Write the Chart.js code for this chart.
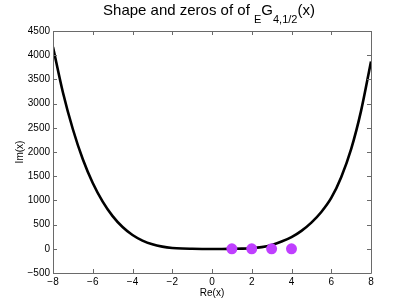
<!DOCTYPE html>
<html>
<head>
<meta charset="utf-8">
<script src="https://cdn.jsdelivr.net/npm/chart.js@4/dist/chart.umd.min.js"></script>
<style>
  html, body { margin: 0; padding: 0; background: #fff; }
  #wrap { position: relative; width: 409px; height: 307px; }
  #title { position: absolute; left: 0; top: 1px; width: 418px; text-align: center;
           font: 15px "Liberation Sans", Arial, sans-serif; color: #000; white-space: nowrap; }
  #title span.s { font-size: 11px; position: relative; top: 8px; }
</style>
</head>
<body>
<div id="wrap">
  <canvas id="c" width="409" height="307"></canvas>
  <div id="title">Shape and zeros of of <span class="s">E</span>G<span class="s">4,1/2</span>(x)</div>
</div>
<script>
// Curve samples
const curveX = [-8, -7.5, -7, -6.5, -6, -5.5, -5, -4.5, -4, -3.5, -3, -2.5, -2, -1.5, -1, -0.5, 0, 0.5, 1, 1.5, 2, 2.5, 3, 3.5, 4, 4.5, 5, 5.5, 6, 6.5, 7, 7.5, 8];
const curveY = [4170, 3230, 2470, 1850, 1360, 975, 675, 450, 285, 170, 92, 45, 18, 5, 0, -3, -4, -3, 0, 3, 12, 35, 80, 150, 240, 370, 540, 760, 1050, 1480, 2060, 2850, 3870];
// Zeros
const zerosX = [1, 2, 3, 4];
const zerosY = [0, 0, 0, 0];
// Axis ticks
const xTicks = [-8, -6, -4, -2, 0, 2, 4, 6, 8];
const yTicks = [-500, 0, 500, 1000, 1500, 2000, 2500, 3000, 3500, 4000, 4500];

const axisColor = '#6a6a6a';
const fontFam = '"Liberation Sans", Arial, sans-serif';

const fmt = v => String(v).replace('-', '\u2212');

const inwardTicks = {
  id: 'inwardTicks',
  afterDraw(chart) {
    const {ctx, chartArea: a, scales: {x, y}} = chart;
    ctx.save();
    ctx.strokeStyle = axisColor;
    ctx.lineWidth = 1;
    ctx.beginPath();
    ctx.rect(Math.round(a.left) + 0.5, Math.round(a.top) + 0.5,
             Math.round(a.right) - Math.round(a.left), Math.round(a.bottom) - Math.round(a.top));
    ctx.stroke();
    const L = 4;
    ctx.beginPath();
    xTicks.forEach(v => {
      const px = Math.round(x.getPixelForValue(v)) + 0.5;
      ctx.moveTo(px, a.bottom); ctx.lineTo(px, a.bottom - L);
      ctx.moveTo(px, a.top); ctx.lineTo(px, a.top + L);
    });
    yTicks.forEach(v => {
      const py = Math.round(y.getPixelForValue(v)) + 0.5;
      ctx.moveTo(a.left, py); ctx.lineTo(a.left + L, py);
      ctx.moveTo(a.right, py); ctx.lineTo(a.right - L, py);
    });
    ctx.stroke();
    ctx.restore();
  }
};

new Chart(document.getElementById('c'), {
  type: 'scatter',
  data: {
    datasets: [
      {
        data: curveX.map((v, i) => ({x: v, y: curveY[i]})),
        showLine: true,
        borderColor: '#000',
        borderWidth: 2.6,
        pointRadius: 0,
        cubicInterpolationMode: 'monotone',
        order: 2
      },
      {
        data: zerosX.map((v, i) => ({x: v, y: zerosY[i]})),
        showLine: false,
        pointRadius: 5.5,
        pointBackgroundColor: '#bf3fff',
        pointBorderColor: '#bf3fff',
        pointBorderWidth: 0,
        order: 1
      }
    ]
  },
  options: {
    responsive: false,
    animation: false,
    layout: { padding: { left: 0, right: 38, top: 31, bottom: 0 } },
    plugins: { legend: { display: false }, tooltip: { enabled: false }, title: { display: false } },
    scales: {
      x: {
        type: 'linear', min: -8, max: 8,
        afterBuildTicks: s => { s.ticks = xTicks.map(v => ({value: v})); },
        afterFit: s => { s.height = 34; },
        grid: { display: false, drawTicks: false },
        border: { display: false },
        ticks: { color: '#000', font: { family: fontFam, size: 10 }, padding: 3, maxRotation: 0, autoSkip: false, callback: v => fmt(v) },
        title: { display: true, text: 'Re(x)', color: '#000', font: { family: fontFam, size: 10 }, padding: { top: 0, bottom: 8 } }
      },
      y: {
        type: 'linear', min: -500, max: 4500,
        afterBuildTicks: s => { s.ticks = yTicks.map(v => ({value: v})); },
        afterFit: s => { s.width = 53; },
        grid: { display: false, drawTicks: false },
        border: { display: false },
        ticks: { color: '#000', font: { family: fontFam, size: 10 }, padding: 3, autoSkip: false, callback: v => fmt(v) },
        title: { display: true, text: 'Im(x)', color: '#000', font: { family: fontFam, size: 10 }, padding: { top: 14, bottom: 0 } }
      }
    }
  },
  plugins: [inwardTicks]
});
</script>
</body>
</html>
